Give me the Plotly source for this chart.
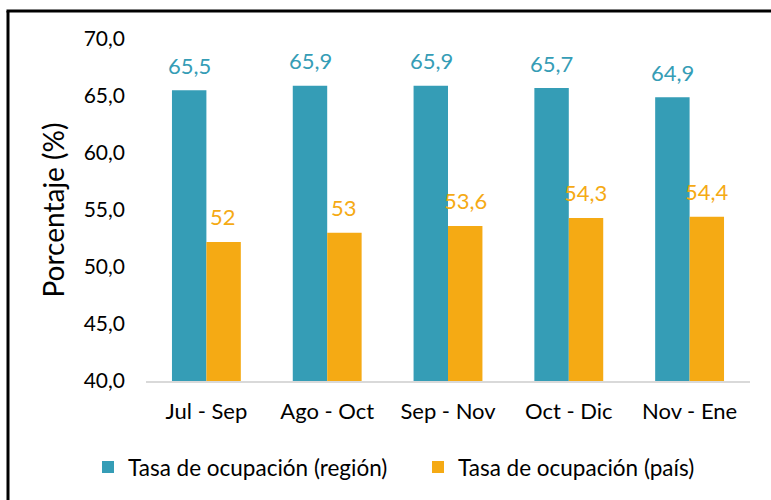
import plotly.graph_objects as go

categories = ["Jul - Sep", "Ago - Oct", "Sep - Nov", "Oct - Dic", "Nov - Ene"]
region_values = [65.5, 65.9, 65.9, 65.7, 64.9]
pais_values = [52.2, 53.0, 53.6, 54.3, 54.4]
region_labels = ["65,5", "65,9", "65,9", "65,7", "64,9"]
pais_labels = ["52", "53", "53,6", "54,3", "54,4"]
y_ticks = [40, 45, 50, 55, 60, 65, 70]
y_tick_labels = ["40,0", "45,0", "50,0", "55,0", "60,0", "65,0", "70,0"]

TEAL = "#359db6"
ORANGE = "#f5aa14"
FONT = "Lato"

fig = go.Figure()
fig.add_trace(go.Bar(x=categories, y=region_values, name="Tasa de ocupación (región)",
                     marker=dict(color=TEAL, line=dict(width=0))))
fig.add_trace(go.Bar(x=categories, y=pais_values, name="Tasa de ocupación (país)",
                     marker=dict(color=ORANGE, line=dict(width=0))))

annotations = []
for cat, v, t in zip(categories, region_values, region_labels):
    annotations.append(dict(x=cat, y=v, xref="x", yref="y", text=t, showarrow=False,
                            xshift=-17, yshift=25, yanchor="middle",
                            font=dict(family=FONT, size=22, color=TEAL)))
for cat, v, t in zip(categories, pais_values, pais_labels):
    annotations.append(dict(x=cat, y=v, xref="x", yref="y", text=t, showarrow=False,
                            xshift=17, yshift=25, yanchor="middle",
                            font=dict(family=FONT, size=22, color=ORANGE)))

PLOT_L, PLOT_W, AXIS_Y, PLOT_H = 146, 604, 381.7, 342.7
top_y = (AXIS_Y - 11) / PLOT_H
left_x = (8 - PLOT_L) / PLOT_W

fig.update_layout(
    width=771, height=500,
    margin=dict(l=146, r=21, t=39, b=118),
    paper_bgcolor="white", plot_bgcolor="white",
    font=dict(family=FONT, size=18, color="black"),
    barmode="group", bargap=0.43, bargroupgap=0,
    annotations=annotations,
    showlegend=True,
    legend=dict(orientation="h", x=(88 - PLOT_L) / PLOT_W, xanchor="left",
                y=-(467 - AXIS_Y) / PLOT_H, yanchor="middle",
                font=dict(family=FONT, size=22.5, color="black"), itemwidth=30,
                entrywidth=285, traceorder="normal"),
    shapes=[
        dict(type="line", xref="paper", yref="paper", x0=left_x - 0.0025, x1=1.1,
             y0=top_y, y1=top_y, line=dict(color="black", width=3), layer="above"),
        dict(type="line", xref="paper", yref="paper", x0=left_x, x1=left_x,
             y0=top_y, y1=-0.5, line=dict(color="black", width=3), layer="above"),
    ],
)
fig.update_xaxes(showline=True, linecolor="#d9d9d9", linewidth=2, ticks="",
                 ticklabelstandoff=10,
                 tickfont=dict(family=FONT, size=22, color="black"), showgrid=False)
fig.update_yaxes(range=[40, 70], tickvals=y_ticks, ticktext=y_tick_labels, showgrid=False,
                 showline=False, zeroline=False, ticks="", ticklabelstandoff=20,
                 tickfont=dict(family=FONT, size=21, color="black"),
                 title=dict(text="Porcentaje (%)", font=dict(family=FONT, size=28, color="black"),
                            standoff=10))

fig.write_html("out.html", config={"displayModeBar": False},
               post_script="document.body.style.margin='0';document.body.style.overflow='hidden';")
